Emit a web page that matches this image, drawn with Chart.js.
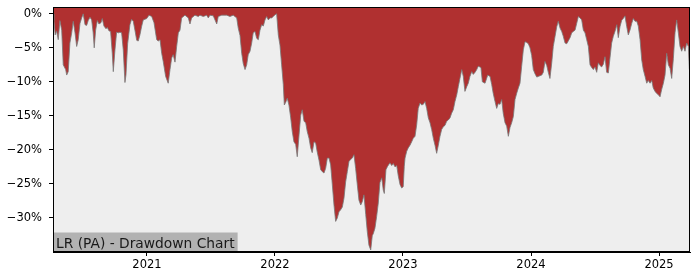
<!DOCTYPE html>
<html>
<head>
<meta charset="utf-8">
<script src="https://cdn.jsdelivr.net/npm/chart.js@4"></script>
<style>
  html, body { margin: 0; padding: 0; background: #ffffff; }
  #wrap { width: 700px; height: 280px; }
</style>
</head>
<body>
<div id="wrap"><canvas id="ddChart" width="700" height="280"></canvas></div>
<script>
// dates as decimal years, drawdown in percent
const dates = [
  2020.266, 2020.273, 2020.283, 2020.294, 2020.307, 2020.320, 2020.334, 2020.346, 2020.365, 2020.373,
  2020.385, 2020.398, 2020.412, 2020.424, 2020.438, 2020.451, 2020.463, 2020.477, 2020.490, 2020.502,
  2020.516, 2020.529, 2020.541, 2020.555, 2020.568, 2020.580, 2020.588, 2020.599, 2020.612, 2020.625,
  2020.641, 2020.651, 2020.664, 2020.680, 2020.690, 2020.703, 2020.716, 2020.729, 2020.737, 2020.750,
  2020.763, 2020.776, 2020.789, 2020.802, 2020.815, 2020.828, 2020.836, 2020.849, 2020.867, 2020.880,
  2020.893, 2020.906, 2020.920, 2020.932, 2020.945, 2020.959, 2020.971, 2020.998, 2021.016, 2021.037,
  2021.055, 2021.076, 2021.088, 2021.102, 2021.115, 2021.127, 2021.146, 2021.166, 2021.180, 2021.193,
  2021.205, 2021.219, 2021.232, 2021.245, 2021.258, 2021.271, 2021.297, 2021.323, 2021.336, 2021.349,
  2021.375, 2021.401, 2021.414, 2021.440, 2021.466, 2021.479, 2021.492, 2021.518, 2021.545, 2021.557,
  2021.584, 2021.623, 2021.648, 2021.674, 2021.701, 2021.713, 2021.727, 2021.740, 2021.752, 2021.766,
  2021.779, 2021.791, 2021.805, 2021.818, 2021.830, 2021.844, 2021.857, 2021.870, 2021.883, 2021.896,
  2021.909, 2021.922, 2021.935, 2021.948, 2021.961, 2021.974, 2021.987, 2022.000, 2022.013, 2022.026,
  2022.039, 2022.052, 2022.065, 2022.073, 2022.084, 2022.096, 2022.109, 2022.123, 2022.135, 2022.148,
  2022.162, 2022.174, 2022.188, 2022.201, 2022.213, 2022.227, 2022.240, 2022.252, 2022.266, 2022.279,
  2022.291, 2022.305, 2022.318, 2022.330, 2022.344, 2022.357, 2022.370, 2022.383, 2022.396, 2022.409,
  2022.422, 2022.435, 2022.448, 2022.461, 2022.474, 2022.487, 2022.500, 2022.513, 2022.526, 2022.539,
  2022.552, 2022.565, 2022.578, 2022.591, 2022.604, 2022.617, 2022.630, 2022.643, 2022.656, 2022.670,
  2022.682, 2022.695, 2022.709, 2022.721, 2022.734, 2022.748, 2022.760, 2022.768, 2022.781, 2022.794,
  2022.807, 2022.820, 2022.834, 2022.846, 2022.854, 2022.867, 2022.880, 2022.898, 2022.912, 2022.924,
  2022.938, 2022.951, 2022.963, 2022.977, 2022.990, 2023.002, 2023.010, 2023.016, 2023.029, 2023.041,
  2023.055, 2023.068, 2023.080, 2023.094, 2023.107, 2023.119, 2023.133, 2023.146, 2023.159, 2023.172,
  2023.185, 2023.198, 2023.211, 2023.224, 2023.237, 2023.250, 2023.263, 2023.276, 2023.289, 2023.302,
  2023.315, 2023.328, 2023.341, 2023.354, 2023.367, 2023.380, 2023.393, 2023.406, 2023.420, 2023.432,
  2023.445, 2023.459, 2023.471, 2023.484, 2023.498, 2023.510, 2023.523, 2023.537, 2023.549, 2023.563,
  2023.576, 2023.588, 2023.609, 2023.620, 2023.641, 2023.662, 2023.680, 2023.693, 2023.705, 2023.719,
  2023.732, 2023.744, 2023.758, 2023.771, 2023.783, 2023.797, 2023.810, 2023.823, 2023.836, 2023.849,
  2023.862, 2023.875, 2023.888, 2023.901, 2023.914, 2023.927, 2023.940, 2023.953, 2023.966, 2023.979,
  2023.992, 2024.005, 2024.018, 2024.031, 2024.045, 2024.057, 2024.070, 2024.084, 2024.096, 2024.109,
  2024.123, 2024.135, 2024.148, 2024.162, 2024.174, 2024.188, 2024.201, 2024.213, 2024.227, 2024.240,
  2024.252, 2024.266, 2024.279, 2024.291, 2024.305, 2024.318, 2024.330, 2024.344, 2024.357, 2024.370,
  2024.383, 2024.396, 2024.409, 2024.422, 2024.435, 2024.448, 2024.461, 2024.474, 2024.487, 2024.500,
  2024.513, 2024.526, 2024.539, 2024.552, 2024.565, 2024.578, 2024.591, 2024.604, 2024.617, 2024.630,
  2024.643, 2024.656, 2024.670, 2024.682, 2024.695, 2024.709, 2024.721, 2024.734, 2024.748, 2024.760,
  2024.773, 2024.787, 2024.799, 2024.813, 2024.826, 2024.838, 2024.852, 2024.865, 2024.877, 2024.891,
  2024.904, 2024.916, 2024.930, 2024.943, 2024.955, 2024.969, 2024.982, 2024.995, 2025.008, 2025.021,
  2025.034, 2025.047, 2025.060, 2025.073, 2025.086, 2025.099, 2025.112, 2025.125, 2025.138, 2025.151,
  2025.164, 2025.177, 2025.190, 2025.203, 2025.216, 2025.229, 2025.237
];

const drawdown = [
  0, -1.0, -3.1, -2.5, -3.8, -1.0, -2.4, -7.5, -8.2, -9.0,
  -8.5, -4.3, -2.8, -1.1, -2.8, -4.8, -3.8, -1.4, -0.6, 0,
  -1.6, -1.7, -1.0, -0.5, -0.9, -2.8, -5.0, -2.4, -1.0, -1.5,
  -1.3, -0.7, -1.8, -2.2, -2.0, -2.5, -2.6, -5.8, -8.5, -5.3,
  -2.7, -2.8, -2.7, -2.8, -5.3, -10.1, -9.0, -4.4, -1.6, -0.8,
  -1.1, -2.4, -3.9, -4.0, -3.1, -1.8, -0.9, -0.7, -0.2, -0.4,
  -1.3, -3.8, -4.0, -3.8, -5.8, -7.0, -9.2, -10.2, -8.2, -6.5,
  -6.0, -7.1, -4.8, -2.8, -2.4, -0.6, -0.2, -0.6, -1.5, -0.6,
  -0.2, -0.4, -0.2, -0.4, -0.2, -0.6, -0.2, -0.3, -1.5, -0.4,
  -0.2, -0.2, -0.4, -0.2, -0.6, -2.1, -3.2, -5.8, -7.3, -8.2,
  -7.5, -6.0, -5.5, -4.3, -2.8, -2.6, -3.6, -3.8, -2.4, -1.6,
  -1.8, -0.9, -0.4, -0.9, -0.6, -0.6, -0.4, -0.15, 0, -3.1,
  -4.6, -7.5, -10.4, -13.4, -13.0, -12.4, -13.4, -15.3, -17.3, -18.8,
  -19.2, -21.0, -17.8, -14.9, -14.1, -15.8, -16.0, -17.3, -18.3, -19.7,
  -20.4, -18.8, -19.0, -20.3, -21.5, -22.9, -23.2, -23.4, -22.7, -21.2,
  -21.2, -22.2, -25.1, -28.1, -30.5, -30.0, -29.1, -28.8, -28.4, -27.1,
  -24.7, -23.2, -21.7, -21.4, -21.2, -20.7, -22.7, -25.1, -27.4, -28.1,
  -27.6, -26.6, -29.5, -32.0, -34.0, -34.7, -32.6, -32.3, -31.5, -29.8,
  -27.8, -24.8, -24.1, -25.9, -26.4, -22.9, -22.4, -21.9, -22.3, -22.0,
  -22.5, -22.3, -23.8, -25.1, -25.6, -25.4, -22.4, -21.2, -20.2, -19.7,
  -19.3, -18.8, -18.3, -18.0, -16.3, -13.9, -13.1, -13.4, -13.3, -12.9,
  -13.9, -15.3, -16.0, -17.0, -18.3, -19.3, -20.5, -19.3, -18.0, -17.0,
  -16.6, -16.4, -15.8, -15.6, -15.3, -14.6, -14.1, -12.9, -11.9, -10.7,
  -9.5, -8.2, -9.2, -11.4, -10.7, -10.2, -9.2, -8.5, -8.9, -8.6,
  -8.2, -7.7, -7.9, -10.0, -10.2, -9.0, -9.2, -10.4, -11.7, -12.9,
  -13.9, -13.2, -13.3, -12.6, -14.6, -16.0, -16.5, -18.0, -16.7, -16.0,
  -15.1, -12.6, -11.7, -10.9, -10.2, -7.7, -5.3, -4.1, -4.2, -4.4,
  -5.0, -6.1, -8.2, -8.8, -9.3, -9.2, -9.1, -9.0, -8.6, -7.0,
  -7.6, -8.6, -9.5, -7.2, -4.8, -3.3, -1.9, -1.1, -2.1, -2.6,
  -3.3, -4.3, -4.4, -4.0, -3.5, -2.8, -2.6, -2.4, -1.4, -0.4,
  -0.6, -0.9, -2.4, -2.8, -3.8, -4.8, -7.5, -7.9, -8.2, -7.8,
  -8.6, -7.2, -7.6, -7.8, -7.4, -6.3, -8.6, -8.7, -6.5, -4.3,
  -3.3, -2.6, -1.6, -3.5, -1.9, -0.9, -0.7, -0.3, -1.9, -3.1,
  -2.4, -1.4, -0.7, -1.1, -1.1, -1.8, -3.8, -6.8, -8.2, -9.2,
  -10.2, -9.8, -10.2, -9.8, -10.9, -11.4, -11.7, -11.9, -12.2, -11.1,
  -10.2, -9.0, -5.8, -7.5, -8.0, -9.5, -6.6, -2.8, -0.9, -2.8,
  -4.8, -5.5, -4.8, -5.5, -4.3, -4.8, -8.2
];

const yearTicks = [2021, 2022, 2023, 2024, 2025];
const pctTicks = [0, -5, -10, -15, -20, -25, -30];
const chartTitle = 'LR (PA) - Drawdown Chart';

const points = dates.map((d, i) => ({ x: d, y: drawdown[i] }));

const tickFont = { family: 'DejaVu Sans', size: 11.5 };

// grey plot background, box spines and the caption in the corner
const framePlugin = {
    id: 'frame',
    beforeDatasetsDraw(chart) {
        const a = chart.chartArea;
        const ctx = chart.ctx;
        ctx.save();
        ctx.fillStyle = '#eeeeee';
        ctx.fillRect(a.left, a.top, a.right - a.left, a.bottom - a.top);
        ctx.restore();
    },
    afterDraw(chart) {
        const a = chart.chartArea;
        const ctx = chart.ctx;
        ctx.save();
        ctx.font = '13.8px "DejaVu Sans"';
        const w = ctx.measureText(chartTitle).width;
        ctx.fillStyle = '#b2b2b2';
        ctx.fillRect(a.left, a.bottom - 19.5, w + 6, 19.5);
        ctx.fillStyle = '#1a1a1a';
        ctx.textBaseline = 'alphabetic';
        ctx.fillText(chartTitle, a.left + 3, a.bottom - 4.5);
        ctx.strokeStyle = '#000000';
        ctx.lineWidth = 1;
        ctx.strokeRect(Math.round(a.left) + 0.5, Math.round(a.top) + 0.5,
            Math.round(a.right - a.left) - 1, Math.round(a.bottom - a.top) - 1);
        ctx.restore();
    }
};

new Chart(document.getElementById('ddChart').getContext('2d'), {
    type: 'line',
    data: {
        datasets: [{
            data: points,
            fill: 'end',
            backgroundColor: 'rgb(176, 48, 48)',
            borderColor: 'rgba(120, 120, 120, 0.8)',
            borderWidth: 1,
            pointRadius: 0,
            tension: 0
        }]
    },
    options: {
        responsive: false,
        animation: false,
        layout: { padding: { top: 7, right: 10, left: 0, bottom: 0 } },
        plugins: {
            legend: { display: false },
            tooltip: { enabled: false }
        },
        scales: {
            x: {
                type: 'linear',
                min: 2020.266,
                max: 2025.242,
                afterBuildTicks: (scale) => { scale.ticks = yearTicks.map(v => ({ value: v })); },
                afterFit: (scale) => { scale.height = 28; scale.paddingLeft = 0; scale.paddingRight = 0; },
                ticks: {
                    color: '#000000',
                    font: tickFont,
                    padding: 2,
                    maxRotation: 0,
                    callback: (v) => String(v)
                },
                grid: { drawOnChartArea: false, drawTicks: true, tickLength: 4, color: '#000000' },
                border: { display: true, color: '#000000', width: 1 }
            },
            y: {
                type: 'linear',
                min: -35,
                max: 1,
                afterBuildTicks: (scale) => { scale.ticks = pctTicks.map(v => ({ value: v })); },
                afterFit: (scale) => { scale.width = 53; scale.paddingTop = 0; scale.paddingBottom = 0; },
                ticks: {
                    color: '#000000',
                    font: tickFont,
                    padding: 7,
                    callback: (v) => (v < 0 ? '\u2212' + Math.abs(v) : v) + '%'
                },
                grid: { drawOnChartArea: false, drawTicks: true, tickLength: 4, color: '#000000' },
                border: { display: true, color: '#000000', width: 1 }
            }
        }
    },
    plugins: [framePlugin]
});
</script>
</body>
</html>
